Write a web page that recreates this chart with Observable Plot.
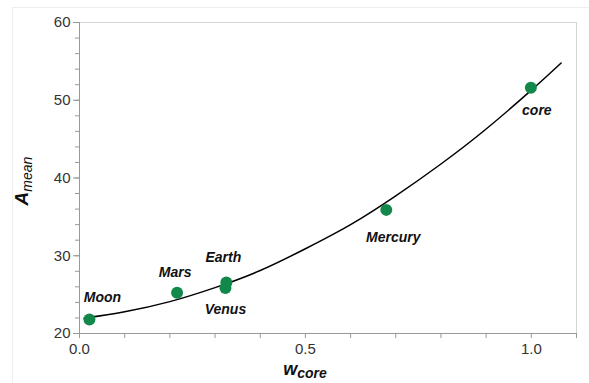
<!DOCTYPE html>
<html><head><meta charset="utf-8">
<script src="https://cdn.jsdelivr.net/npm/d3@7"></script>
<script src="https://cdn.jsdelivr.net/npm/@observablehq/plot@0.6"></script>
<style>
html,body{margin:0;padding:0;background:#fff;}
#wrap{position:relative;width:589px;height:383px;overflow:hidden;}
#border{position:absolute;left:12px;top:7px;width:600px;height:400px;border-left:1px solid #eee;border-top:1px solid #eee;}
#wrap svg{position:absolute;left:0;top:0;}
</style></head><body><div id="wrap"><div id="border"></div></div>
<script>
// Data
const names = ["Moon", "Mars", "Venus", "Earth", "Mercury", "core"];
const wcore = [0.022, 0.216, 0.323, 0.325, 0.679, 0.999];
const amean = [21.8, 25.25, 25.85, 26.55, 35.9, 51.6];

// fitted curve
const fitX = [0.01, 0.1, 0.2, 0.3, 0.4, 0.5, 0.6, 0.7, 0.8, 0.9, 1.0, 1.066];
const fitY = [21.97, 22.8, 24.1, 25.9, 28.1, 30.9, 34.0, 37.7, 41.8, 46.3, 51.3, 54.8];

const xTicks = [0, 0.5, 1.0];
const xMinorTicks = [0, 0.1, 0.2, 0.3, 0.4, 0.5, 0.6, 0.7, 0.8, 0.9, 1.0, 1.1];
const yTicks = [20, 30, 40, 50, 60];
const yMinorTicks = [20, 22, 24, 26, 28, 30, 32, 34, 36, 38, 40, 42, 44, 46, 48, 50, 52, 54, 56, 58, 60];

const points = names.map((n, i) => ({name: n, x: wcore[i], y: amean[i]}));
const fit = fitX.map((x, i) => ({x, y: fitY[i]}));

const green = "#12894a";
const font = "'Liberation Sans', Arial, sans-serif";

// label placement (pixels, relative to the dot)
const labelOffset = {
  Moon: [13, -22], Mars: [-2, -20], Earth: [-3, -25],
  Venus: [0, 21], Mercury: [7, 28], core: [6, 23]
};

const labelMarks = points.map(p => Plot.text([p], {
  x: "x", y: "y", text: "name",
  dx: labelOffset[p.name][0], dy: labelOffset[p.name][1],
  fontSize: 14, fontWeight: "bold", fontStyle: "italic", fill: "#111"
}));

const chart = Plot.plot({
  width: 589, height: 383,
  marginLeft: 79, marginRight: 13, marginTop: 22, marginBottom: 50,
  style: {fontFamily: font, background: "transparent", overflow: "visible"},
  x: {domain: [0, 1.1]},
  y: {domain: [20, 60]},
  marks: [
    Plot.frame({stroke: "#d4d4d4"}),
    Plot.axisX(xMinorTicks, {text: null, tickSize: 5, stroke: "#999", label: null}),
    Plot.axisX(xTicks, {tickSize: 0, tickPadding: 10, fontSize: 15, fill: "#333", tickFormat: d => d.toFixed(1), label: null}),
    Plot.axisY(yMinorTicks, {text: null, tickSize: 4, stroke: "#999", label: null}),
    Plot.axisY(yTicks, {tickSize: 6, tickPadding: 3, fontSize: 15, fill: "#333", stroke: "#999", label: null}),
    Plot.ruleX([0], {stroke: "#999"}),
    Plot.ruleY([20], {stroke: "#999"}),
    Plot.line(fit, {x: "x", y: "y", stroke: "#000", strokeWidth: 1.5, curve: "natural"}),
    Plot.dot(points, {x: "x", y: "y", r: 6, fill: green}),
    ...labelMarks
  ]
});

const svg = d3.select(chart);
// x axis label: w_core
const xl = svg.append("text")
  .attr("x", 305).attr("y", 374.5)
  .attr("text-anchor", "middle")
  .attr("font-family", font)
  .attr("font-weight", "bold").attr("font-style", "italic").attr("fill", "#111");
xl.append("tspan").attr("font-size", 18).text("w");
xl.append("tspan").attr("font-size", 14).attr("dy", 3).text("core");

// y axis label: A_mean
const yl = svg.append("text")
  .attr("transform", "translate(28,181) rotate(-90)")
  .attr("text-anchor", "middle")
  .attr("font-family", font)
  .attr("font-style", "italic").attr("fill", "#111");
yl.append("tspan").attr("font-size", 19).attr("font-weight", "bold").text("A");
yl.append("tspan").attr("font-size", 14).attr("dy", 4).text("mean");

document.getElementById("wrap").appendChild(chart);
</script>
</body></html>
